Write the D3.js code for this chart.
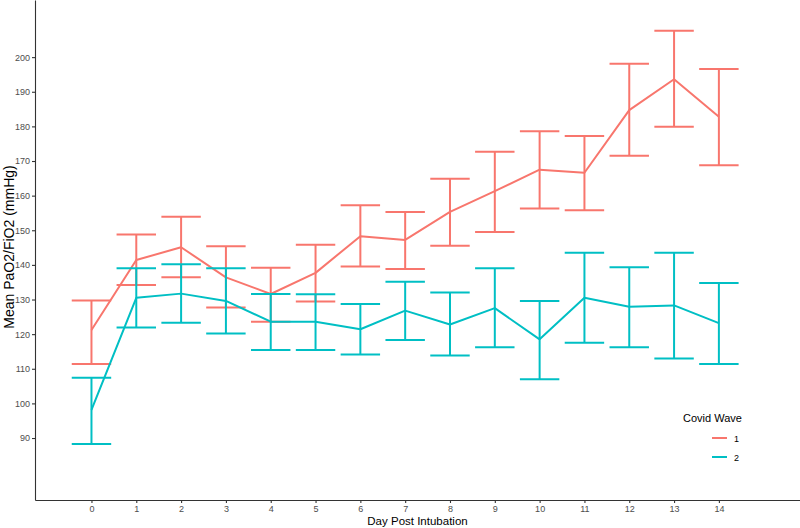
<!DOCTYPE html>
<html>
<head>
<meta charset="utf-8">
<script src="https://cdn.jsdelivr.net/npm/d3@7/dist/d3.min.js"></script>
<style>
  body { margin: 0; background: #fff; }
  svg { display: block; font-family: "Liberation Sans", Arial, sans-serif; }
</style>
</head>
<body>
<div id="chart"></div>
<script>
// Day post intubation
const days = [0, 1, 2, 3, 4, 5, 6, 7, 8, 9, 10, 11, 12, 13, 14];

// Covid wave 1 (mean and error bar limits)
const wave1Mean = [121.2, 141.4, 145.1, 136.4, 131.6, 137.7, 148.3, 147.2, 155.3, 161.3, 167.5, 166.6, 184.7, 193.6, 182.8];
const wave1Low  = [111.4, 134.2, 136.4, 127.7, 123.6, 129.4, 139.5, 138.8, 145.5, 149.5, 156.3, 155.8, 171.5, 179.9, 168.8];
const wave1High = [129.7, 148.8, 153.9, 145.4, 139.2, 145.8, 157.2, 155.3, 164.9, 172.7, 178.6, 177.2, 198.1, 207.6, 196.6];

// Covid wave 2
const wave2Mean = [98.1, 130.5, 131.7, 129.6, 123.6, 123.6, 121.4, 126.8, 122.8, 127.5, 118.5, 130.5, 127.9, 128.3, 123.2];
const wave2Low  = [88.3, 121.9, 123.3, 120.2, 115.4, 115.4, 114.1, 118.3, 113.8, 116.2, 107.0, 117.5, 116.2, 113.0, 111.4];
const wave2High = [107.4, 139.0, 140.2, 139.0, 131.6, 131.5, 128.7, 135.1, 132.0, 139.0, 129.6, 143.5, 139.3, 143.5, 134.8];

const waveNames = ["1", "2"];
const waveColors = ["#F8766D", "#00BFC4"];
const yTicks = [90, 100, 110, 120, 130, 140, 150, 160, 170, 180, 190, 200];

const width = 800, height = 528;
const margin = { left: 35, right: 800, top: 0, bottom: 500 };

const svg = d3.select("#chart").append("svg")
    .attr("width", width)
    .attr("height", height);

const x = d3.scaleLinear().domain([-1.26, 15.81]).range([margin.left, margin.right]);
const y = d3.scaleLinear().domain([72.1, 216.5]).range([margin.bottom, margin.top]);

const series = [
    { name: waveNames[0], color: waveColors[0], mean: wave1Mean, lo: wave1Low, hi: wave1High },
    { name: waveNames[1], color: waveColors[1], mean: wave2Mean, lo: wave2Low, hi: wave2High }
];

const capHalf = 0.44; // in day units

series.forEach(s => {
    const g = svg.append("g")
        .attr("stroke", s.color)
        .attr("stroke-width", 2)
        .attr("fill", "none");

    // error bars
    days.forEach((d, i) => {
        g.append("line")
            .attr("x1", x(d)).attr("x2", x(d))
            .attr("y1", y(s.lo[i])).attr("y2", y(s.hi[i]));
        g.append("line")
            .attr("x1", x(d - capHalf)).attr("x2", x(d + capHalf))
            .attr("y1", y(s.lo[i])).attr("y2", y(s.lo[i]));
        g.append("line")
            .attr("x1", x(d - capHalf)).attr("x2", x(d + capHalf))
            .attr("y1", y(s.hi[i])).attr("y2", y(s.hi[i]));
    });

    // mean line
    g.append("path")
        .datum(days.map((d, i) => [d, s.mean[i]]))
        .attr("stroke-linejoin", "round")
        .attr("d", d3.line().x(p => x(p[0])).y(p => y(p[1])));
});

// Axes
const xAxis = svg.append("g")
    .attr("transform", `translate(0,${margin.bottom})`)
    .call(d3.axisBottom(x).tickValues(days).tickSize(3).tickSizeOuter(0).tickPadding(3));
const yAxis = svg.append("g")
    .attr("transform", `translate(${margin.left},0)`)
    .call(d3.axisLeft(y).tickValues(yTicks).tickSize(3).tickSizeOuter(0).tickPadding(2));

[xAxis, yAxis].forEach(a => {
    a.select(".domain").attr("stroke", "#333").attr("stroke-width", 1.1);
    a.selectAll(".tick line").attr("stroke", "#333").attr("stroke-width", 1.1);
    a.selectAll(".tick text")
        .attr("fill", "#4d4d4d")
        .style("font-size", "9px")
        .style("font-family", "Liberation Sans, Arial, sans-serif");
});

// Axis titles
svg.append("text")
    .attr("x", (margin.left + margin.right) / 2)
    .attr("y", 525)
    .attr("text-anchor", "middle")
    .style("font-size", "11.5px")
    .text("Day Post Intubation");

svg.append("text")
    .attr("transform", "translate(13.5,247) rotate(-90)")
    .attr("text-anchor", "middle")
    .style("font-size", "14px")
    .text("Mean PaO2/FiO2 (mmHg)");

// Legend
const legend = svg.append("g").attr("transform", "translate(683,0)");
legend.append("text")
    .attr("x", 0).attr("y", 422)
    .style("font-size", "11px")
    .text("Covid Wave");

series.forEach((s, i) => {
    const ly = 438 + i * 19;
    legend.append("line")
        .attr("x1", 29).attr("x2", 44)
        .attr("y1", ly).attr("y2", ly)
        .attr("stroke", s.color)
        .attr("stroke-width", 2);
    legend.append("text")
        .attr("x", 51).attr("y", ly + 3.5)
        .style("font-size", "9px")
        .text(s.name);
});
</script>
</body>
</html>
